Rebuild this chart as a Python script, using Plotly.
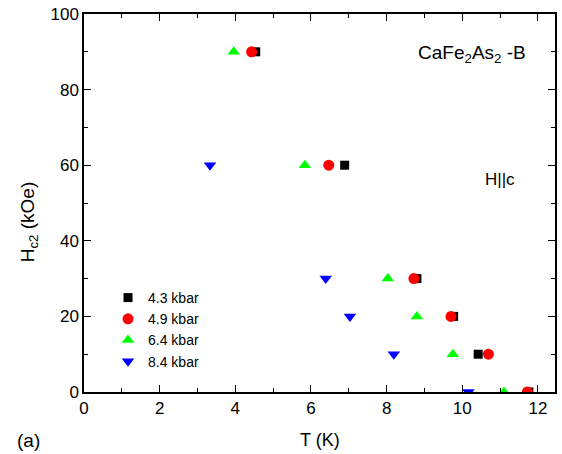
import plotly.graph_objects as go

# Data
H_main = [90, 60, 30, 20, 10, 0]
T_43 = [4.54, 6.89, 8.80, 9.77, 10.42, 11.76]
T_49 = [4.43, 6.47, 8.72, 9.70, 10.69, 11.72]
T_64 = [3.96, 5.84, 8.03, 8.80, 9.75, 11.10]
H_84 = [60, 30, 20, 10, 0]
T_84 = [3.33, 6.39, 7.03, 8.19, 10.16]

labels = ["4.3 kbar", "4.9 kbar", "6.4 kbar", "8.4 kbar"]
FONT = "Liberation Sans, Arial, sans-serif"

fig = go.Figure()
fig.add_trace(go.Scatter(x=T_43, y=H_main, mode="markers", name=labels[0],
                         marker=dict(symbol="square", size=9, color="#000000")))
fig.add_trace(go.Scatter(x=T_49, y=H_main, mode="markers", name=labels[1],
                         marker=dict(symbol="circle", size=11, color="#FF0000")))
fig.add_trace(go.Scatter(x=T_64, y=H_main, mode="markers", name=labels[2],
                         marker=dict(symbol="triangle-up", size=11, color="#00FF00")))
fig.add_trace(go.Scatter(x=T_84, y=H_84, mode="markers", name=labels[3],
                         marker=dict(symbol="triangle-down", size=11, color="#0000FF")))

axis_common = dict(showgrid=False, zeroline=False, showline=True, linecolor="black",
                   linewidth=1.5, mirror="ticks", ticks="inside", ticklen=7,
                   tickwidth=1.2, tickcolor="black",
                   tickfont=dict(family=FONT, size=17, color="black"))

fig.update_xaxes(range=[0, 12.45], dtick=2, tick0=0,
                 minor=dict(dtick=1, ticks="inside", ticklen=4, tickcolor="black", tickwidth=1.2),
                 **axis_common)
fig.update_yaxes(range=[0, 100], dtick=20, tick0=0,
                 minor=dict(dtick=10, ticks="inside", ticklen=4, tickcolor="black", tickwidth=1.2),
                 **axis_common)

fig.update_layout(
    width=562, height=454,
    margin=dict(l=84, r=5, t=10, b=62),
    plot_bgcolor="white", paper_bgcolor="white",
    showlegend=True,
    legend=dict(x=0.051, y=0.291, xanchor="left", yanchor="top",
                font=dict(family=FONT, size=14, color="black"),
                bgcolor="rgba(0,0,0,0)", tracegroupgap=0, itemwidth=30),
    annotations=[
        dict(text="CaFe<sub>2</sub>As<sub>2</sub> -B", xref="paper", yref="paper",
             x=0.704, y=0.893, xanchor="left", yanchor="middle", showarrow=False,
             font=dict(family=FONT, size=19, color="black")),
        dict(text="H||c", xref="paper", yref="paper",
             x=0.847, y=0.562, xanchor="left", yanchor="middle", showarrow=False,
             font=dict(family=FONT, size=17, color="black")),
        dict(text="T (K)", xref="paper", yref="paper",
             x=0.502, y=-0.127, xanchor="center", yanchor="middle", showarrow=False,
             font=dict(family=FONT, size=18, color="black")),
        dict(text="H<sub>c2</sub> (kOe)", xref="paper", yref="paper",
             x=-0.118, y=0.45, xanchor="center", yanchor="middle", showarrow=False,
             textangle=-90, font=dict(family=FONT, size=19, color="black")),
        dict(text="(a)", xref="paper", yref="paper",
             x=-0.118, y=-0.128, xanchor="center", yanchor="middle", showarrow=False,
             font=dict(family=FONT, size=19, color="black")),
    ],
)

fig.write_html("out.html")
